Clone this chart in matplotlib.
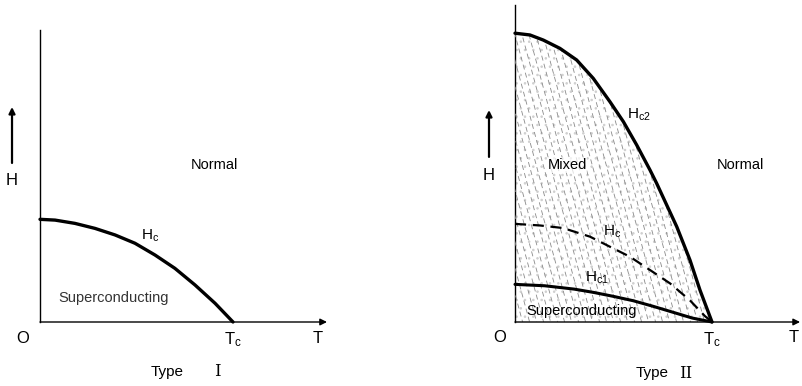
import numpy as np
import matplotlib.pyplot as plt
from matplotlib.patches import Polygon
from matplotlib.collections import LineCollection

plt.rcParams["font.family"] = ["Liberation Sans", "DejaVu Sans"]
plt.rcParams["mathtext.default"] = "regular"
plt.rcParams["hatch.linewidth"] = 0.6

# Type I: critical field curve (T/Tc, H)
t1_hc = [0.0, 0.078, 0.181, 0.285, 0.389, 0.492, 0.596, 0.699, 0.803, 0.907, 1.0]
h1_hc = [0.532, 0.528, 0.511, 0.485, 0.451, 0.408, 0.347, 0.278, 0.192, 0.097, 0.0]

# Type II: upper critical field Hc2
t2_hc2 = [0.0, 0.076, 0.144, 0.228, 0.313, 0.397, 0.482, 0.550, 0.618, 0.685,
          0.719, 0.821, 0.888, 0.939, 1.0]
h2_hc2 = [1.466, 1.457, 1.431, 1.389, 1.330, 1.237, 1.118, 1.017, 0.898, 0.772,
          0.704, 0.484, 0.315, 0.162, 0.0]

# Type II: thermodynamic field Hc (dashed)
t2_hc = [0.0, 0.127, 0.244, 0.381, 0.482, 0.584, 0.685, 0.787, 0.888, 0.964, 1.0]
h2_hc = [0.498, 0.490, 0.477, 0.433, 0.382, 0.331, 0.264, 0.196, 0.110, 0.030, 0.0]

# Type II: lower critical field Hc1
t2_hc1 = [0.0, 0.15, 0.30, 0.40, 0.50, 0.60, 0.70, 0.80, 0.90, 1.0]
h2_hc1 = [0.191, 0.184, 0.167, 0.150, 0.130, 0.108, 0.080, 0.050, 0.020, 0.0]

fig = plt.figure(figsize=(8.02, 3.86), dpi=100)
ax1 = fig.add_axes([0, 0, 400 / 802, 1])
ax2 = fig.add_axes([400 / 802, 0, 402 / 802, 1])

ax1.set_xlim(-40 / 193, 360 / 193)
ax1.set_ylim(-64 / 193, 322 / 193)
ax2.set_xlim(-115 / 197, 287 / 197)
ax2.set_ylim(-64 / 197, 322 / 197)


def draw_axes(ax, t_end, h_end, h_arrow_t, h_arrow, h_label):
    ax.axis("off")
    ax.plot([0, 0], [0, h_end], color="black", lw=1.0)
    ax.annotate("", xy=(t_end, 0), xytext=(0, 0),
                arrowprops=dict(arrowstyle="-|>", color="black", lw=1.0,
                                mutation_scale=10, shrinkA=0, shrinkB=0))
    ax.annotate("", xy=(h_arrow_t, h_arrow[1]), xytext=(h_arrow_t, h_arrow[0]),
                arrowprops=dict(arrowstyle="-|>", color="black", lw=1.6,
                                mutation_scale=9, shrinkA=0, shrinkB=0))
    ax.text(h_arrow_t, h_label, "H", fontsize=12, ha="center", va="center")


# ---- Type I ----
draw_axes(ax1, 1.487, 1.513, -0.145, (0.824, 1.114), 0.731)
ax1.plot(t1_hc, h1_hc, color="black", lw=2.4, solid_capstyle="round")
ax1.text(0.902, 0.813, "Normal", fontsize=10.5, ha="center", va="center")
ax1.text(0.57, 0.446, "H$_c$", fontsize=11, ha="center", va="center")
ax1.text(0.383, 0.124, "Superconducting", fontsize=10.5, ha="center", va="center",
         color="#333333")
ax1.text(-0.088, -0.083, "O", fontsize=12, ha="center", va="center")
ax1.text(1.0, -0.093, "T$_c$", fontsize=12, ha="center", va="center")
ax1.text(1.44, -0.083, "T", fontsize=12, ha="center", va="center")
ax1.text(0.66, -0.259, "Type", fontsize=11, ha="center", va="center")
ax1.text(0.92, -0.259, "I", fontsize=12, ha="center", va="center", family="DejaVu Serif")

# ---- Type II ----
draw_axes(ax2, 1.447, 1.609, -0.132, (0.838, 1.076), 0.746)

# shaded region under Hc2: light stipple plus steep dashed strokes
region = Polygon(list(zip([0.0] + t2_hc2, [0.0] + h2_hc2)), closed=True,
                 facecolor="none", edgecolor="none", transform=ax2.transData)
ax2.add_patch(region)
ax2.fill_between(t2_hc2, 0, h2_hc2, facecolor="none", edgecolor="#cfcfcf",
                 hatch="..", lw=0)
slant = 0.27
starts = np.arange(-0.5, 1.05, 7 / 197)
strokes = [[(x0, 1.6), (x0 + slant * 1.6, 0.0)] for x0 in starts]
dash_styles = [((i * 3.7) % 10, (6, 4)) for i in range(len(starts))]
lc = LineCollection(strokes, colors="#8a8a8a", linewidths=0.6, linestyles=dash_styles)
ax2.add_collection(lc)
lc.set_clip_path(region)

ax2.plot(t2_hc2, h2_hc2, color="black", lw=2.4, solid_capstyle="round")
ax2.plot(t2_hc, h2_hc, color="black", lw=1.6, linestyle=(0, (5, 3)))
ax2.plot(t2_hc1, h2_hc1, color="black", lw=2.2, solid_capstyle="round")
ax2.text(0.264, 0.797, "Mixed", fontsize=10.5, ha="center", va="center",
         bbox=dict(facecolor="white", edgecolor="none", pad=0.5, alpha=0.7))
ax2.text(1.142, 0.797, "Normal", fontsize=10.5, ha="center", va="center")
ax2.text(0.63, 1.05, "H$_{c2}$", fontsize=11, ha="center", va="center")
ax2.text(0.492, 0.457, "H$_c$", fontsize=11, ha="center", va="center")
ax2.text(0.416, 0.223, "H$_{c1}$", fontsize=11, ha="center", va="center")
ax2.text(0.34, 0.056, "Superconducting", fontsize=10.5, ha="center", va="center")
ax2.text(-0.076, -0.081, "O", fontsize=12, ha="center", va="center")
ax2.text(1.0, -0.09, "T$_c$", fontsize=12, ha="center", va="center")
ax2.text(1.416, -0.081, "T", fontsize=12, ha="center", va="center")
ax2.text(0.695, -0.259, "Type", fontsize=11, ha="center", va="center")
ax2.text(0.865, -0.259, "II", fontsize=12, ha="center", va="center", family="DejaVu Serif")

fig.savefig("out.png", dpi=100)
